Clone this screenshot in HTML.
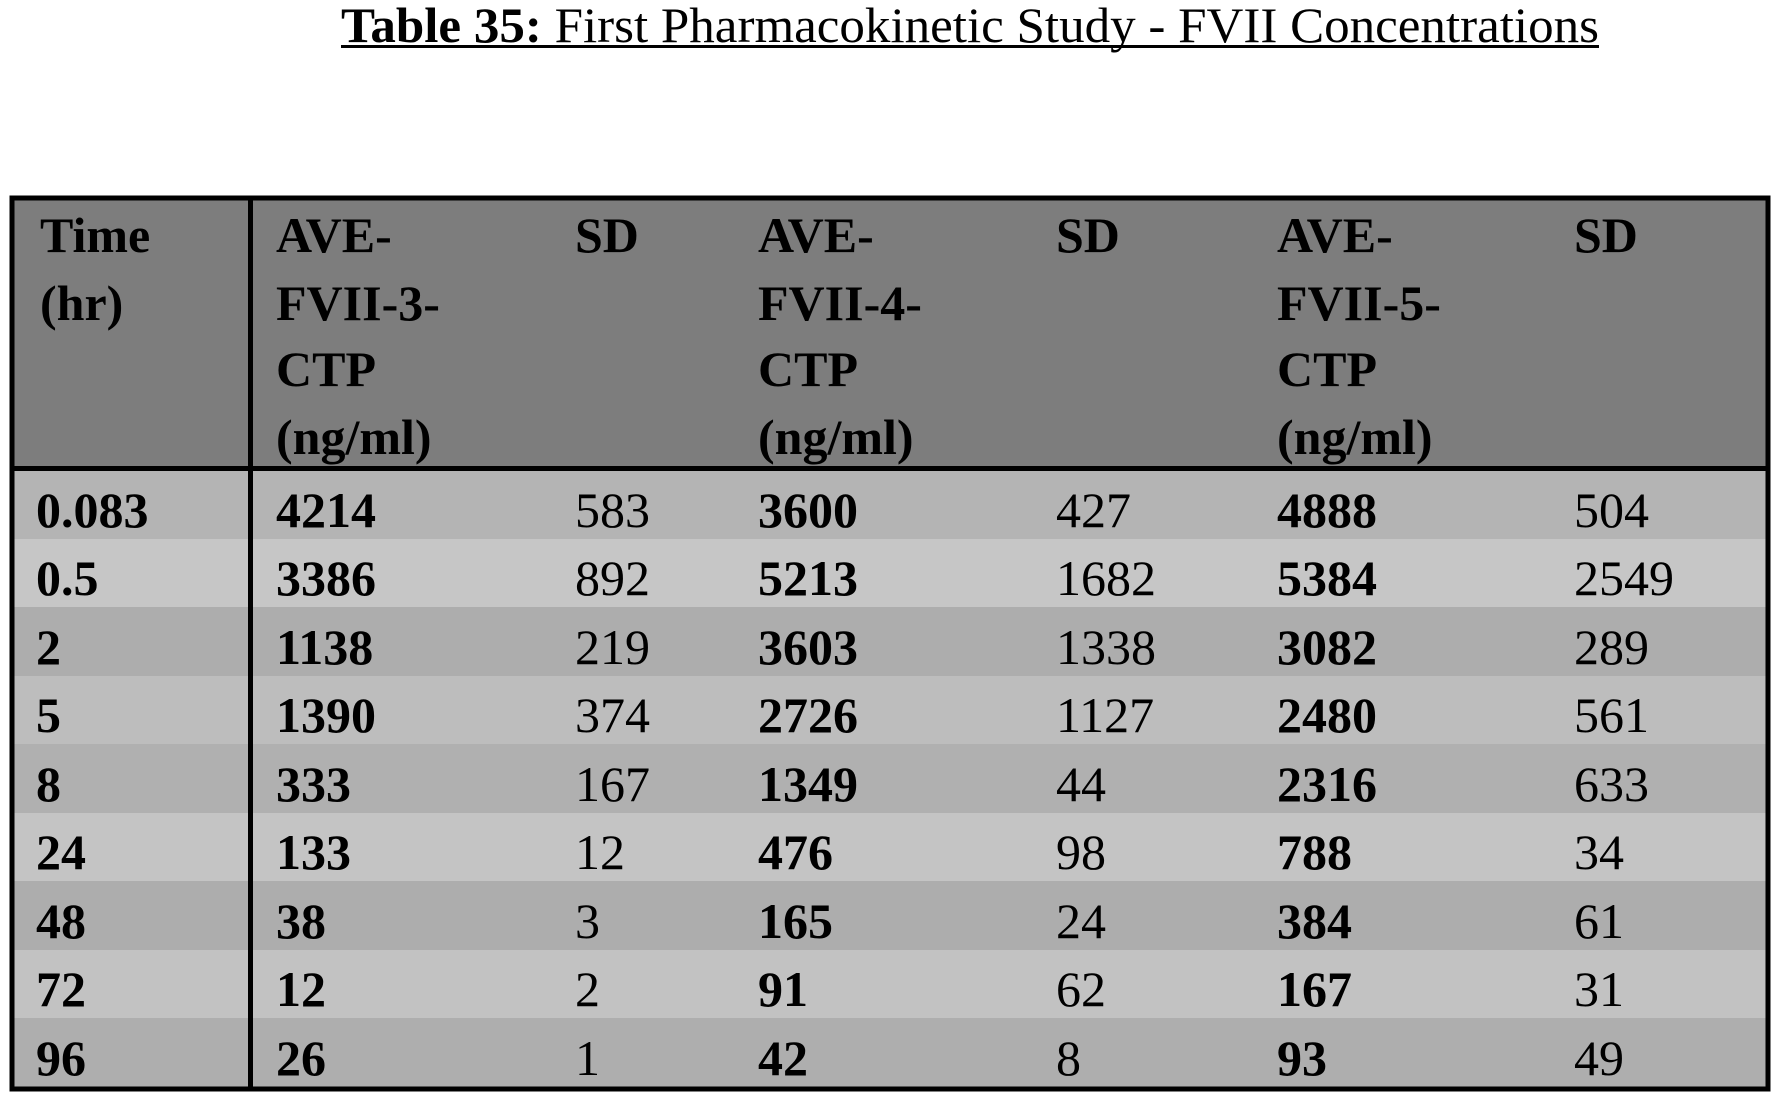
<!DOCTYPE html>
<html><head><meta charset="utf-8"><style>
html,body{margin:0;padding:0;background:#fff;}
svg{display:block;}
text{font-family:"Liberation Serif","Times New Roman",serif;}
</style></head><body>
<svg width="1772" height="1098" viewBox="0 0 1772 1098" xmlns="http://www.w3.org/2000/svg">
<text x="341" y="42" font-size="50" textLength="1258" lengthAdjust="spacingAndGlyphs"><tspan font-weight="bold">Table 35:</tspan> First Pharmacokinetic Study - FVII Concentrations</text>
<rect x="341" y="45" width="1258" height="3" fill="#000"/>
<rect x="12" y="198" width="1756" height="270" fill="#7d7d7d"/>
<rect x="12" y="470" width="1756" height="69" fill="#b4b4b4"/>
<rect x="12" y="539" width="1756" height="68" fill="#c6c6c6"/>
<rect x="12" y="607" width="1756" height="69" fill="#adadad"/>
<rect x="12" y="676" width="1756" height="68" fill="#bdbdbd"/>
<rect x="12" y="744" width="1756" height="69" fill="#b0b0b0"/>
<rect x="12" y="813" width="1756" height="68" fill="#c4c4c4"/>
<rect x="12" y="881" width="1756" height="69" fill="#adadad"/>
<rect x="12" y="950" width="1756" height="68" fill="#c2c2c2"/>
<rect x="12" y="1018" width="1756" height="71" fill="#aeaeae"/>
<rect x="12" y="198" width="1756" height="891" fill="none" stroke="#000" stroke-width="5"/>
<rect x="248" y="198" width="5" height="891" fill="#000"/>
<rect x="12" y="466" width="1756" height="5" fill="#000"/>
<g font-size="50" font-weight="bold" fill="#000">
<text x="40" y="252">Time</text><text x="40" y="320">(hr)</text>
<text x="276" y="252">AVE-</text><text x="276" y="320">FVII-3-</text><text x="276" y="386">CTP</text><text x="276" y="454">(ng/ml)</text>
<text x="575" y="252">SD</text>
<text x="758" y="252">AVE-</text><text x="758" y="320">FVII-4-</text><text x="758" y="386">CTP</text><text x="758" y="454">(ng/ml)</text>
<text x="1056" y="252">SD</text>
<text x="1277" y="252">AVE-</text><text x="1277" y="320">FVII-5-</text><text x="1277" y="386">CTP</text><text x="1277" y="454">(ng/ml)</text>
<text x="1574" y="252">SD</text>
</g>
<g font-size="50" fill="#000">
<g font-weight="bold">
<text x="36" y="527">0.083</text><text x="36" y="595">0.5</text><text x="36" y="664">2</text><text x="36" y="732">5</text><text x="36" y="801">8</text><text x="36" y="869">24</text><text x="36" y="938">48</text><text x="36" y="1006">72</text><text x="36" y="1075">96</text>
<text x="276" y="527">4214</text><text x="276" y="595">3386</text><text x="276" y="664">1138</text><text x="276" y="732">1390</text><text x="276" y="801">333</text><text x="276" y="869">133</text><text x="276" y="938">38</text><text x="276" y="1006">12</text><text x="276" y="1075">26</text>
<text x="758" y="527">3600</text><text x="758" y="595">5213</text><text x="758" y="664">3603</text><text x="758" y="732">2726</text><text x="758" y="801">1349</text><text x="758" y="869">476</text><text x="758" y="938">165</text><text x="758" y="1006">91</text><text x="758" y="1075">42</text>
<text x="1277" y="527">4888</text><text x="1277" y="595">5384</text><text x="1277" y="664">3082</text><text x="1277" y="732">2480</text><text x="1277" y="801">2316</text><text x="1277" y="869">788</text><text x="1277" y="938">384</text><text x="1277" y="1006">167</text><text x="1277" y="1075">93</text>
</g>
<text x="575" y="527">583</text><text x="575" y="595">892</text><text x="575" y="664">219</text><text x="575" y="732">374</text><text x="575" y="801">167</text><text x="575" y="869">12</text><text x="575" y="938">3</text><text x="575" y="1006">2</text><text x="575" y="1075">1</text>
<text x="1056" y="527">427</text><text x="1056" y="595">1682</text><text x="1056" y="664">1338</text><text x="1056" y="732">1127</text><text x="1056" y="801">44</text><text x="1056" y="869">98</text><text x="1056" y="938">24</text><text x="1056" y="1006">62</text><text x="1056" y="1075">8</text>
<text x="1574" y="527">504</text><text x="1574" y="595">2549</text><text x="1574" y="664">289</text><text x="1574" y="732">561</text><text x="1574" y="801">633</text><text x="1574" y="869">34</text><text x="1574" y="938">61</text><text x="1574" y="1006">31</text><text x="1574" y="1075">49</text>
</g>
</svg>
</body></html>
